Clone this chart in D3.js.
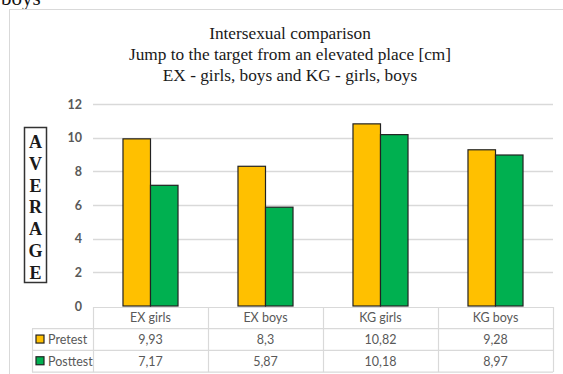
<!DOCTYPE html>
<html>
<head>
<meta charset="utf-8">
<script src="https://cdn.jsdelivr.net/npm/d3@7/dist/d3.min.js"></script>
<style>
  html, body { margin: 0; padding: 0; background: #fff; }
  svg { display: block; }
</style>
</head>
<body>
<svg id="chart" width="563" height="374"></svg>
<script>
// Group labels along the x axis
const categories = ["EX girls", "EX boys", "KG girls", "KG boys"];
// Measurement series
const seriesNames = ["Pretest", "Posttest"];
const pretest = [9.93, 8.3, 10.82, 9.28];
const posttest = [7.17, 5.87, 10.18, 8.97];
// Table cell labels as printed (decimal comma)
const pretestLabels = ["9,93", "8,3", "10,82", "9,28"];
const posttestLabels = ["7,17", "5,87", "10,18", "8,97"];
// Y axis ticks
const yTicks = [0, 2, 4, 6, 8, 10, 12];
const titleLines = [
  "Intersexual comparison",
  "Jump to the target from an elevated place [cm]",
  "EX - girls, boys and KG - girls, boys"
];
const axisLetters = ["A", "V", "E", "R", "A", "G", "E"];

const colors = { Pretest: "#FFC000", Posttest: "#00B050" };
const values = { Pretest: pretest, Posttest: posttest };
const labels = { Pretest: pretestLabels, Posttest: posttestLabels };

const svg = d3.select("#chart");
const serifFont = "'Liberation Serif', 'Times New Roman', Times, serif";
const tableFont = "Lato, 'Open Sans', sans-serif";
const gridColor = "#d9d9d9";
const textGray = "#595959";

// Caption fragment above the chart frame
svg.append("text")
  .attr("x", 1).attr("y", 5)
  .attr("font-family", serifFont)
  .attr("font-size", 21)
  .attr("fill", "#111")
  .text("boys");

// Chart frame
svg.append("rect")
  .attr("x", 9.5).attr("y", 9.5)
  .attr("width", 600).attr("height", 400)
  .attr("fill", "#fff")
  .attr("stroke", gridColor);

// Title
svg.append("g").selectAll("text")
  .data(titleLines).join("text")
  .attr("x", 290)
  .attr("y", (d, i) => 39 + i * 21)
  .attr("text-anchor", "middle")
  .attr("font-family", serifFont)
  .attr("font-size", 17.3)
  .attr("fill", "#1a1a1a")
  .text(d => d);

// Scales
const plotLeft = 93, plotRight = 553, plotTop = 104, plotBottom = 306;
const x = d3.scaleBand().domain(categories).range([plotLeft, plotRight]).padding(0);
const xSub = d3.scaleBand().domain(seriesNames).range([0, x.bandwidth()])
  .paddingInner(0).paddingOuter(1.09);
const y = d3.scaleLinear().domain([0, 12]).range([plotBottom, plotTop]);

// Gridlines
svg.append("g").selectAll("line")
  .data(yTicks.filter(t => t > 0)).join("line")
  .attr("x1", plotLeft).attr("x2", plotRight)
  .attr("y1", d => Math.round(y(d)) + 0.5).attr("y2", d => Math.round(y(d)) + 0.5)
  .attr("stroke", gridColor).attr("stroke-width", 1.3);

// Y axis labels
const yAxis = d3.axisLeft(y).tickValues(yTicks).tickSize(0).tickPadding(11);
const yg = svg.append("g").attr("transform", `translate(${plotLeft},0)`).call(yAxis);
yg.select(".domain").remove();
yg.selectAll("text")
  .attr("font-family", tableFont)
  .attr("font-size", 12.5)
  .attr("font-weight", 700)
  .attr("fill", textGray);

// Bars
const groups = svg.append("g").selectAll("g")
  .data(categories).join("g")
  .attr("transform", d => `translate(${x(d)},0)`);
groups.selectAll("rect")
  .data((c, i) => seriesNames.map(s => ({ s, v: values[s][i] })))
  .join("rect")
  .attr("x", d => xSub(d.s))
  .attr("y", d => y(d.v))
  .attr("width", xSub.bandwidth())
  .attr("height", d => y(0) - y(d.v))
  .attr("fill", d => colors[d.s])
  .attr("stroke", "#222")
  .attr("stroke-width", 1.2);

// Vertical axis title in a box
const boxG = svg.append("g");
boxG.append("rect")
  .attr("x", 24.5).attr("y", 127.5)
  .attr("width", 22).attr("height", 155)
  .attr("fill", "#fff")
  .attr("stroke", "#333").attr("stroke-width", 1.5);
boxG.selectAll("text")
  .data(axisLetters).join("text")
  .attr("x", 35.5)
  .attr("y", (d, i) => 148 + i * 21.8)
  .attr("text-anchor", "middle")
  .attr("font-family", serifFont)
  .attr("font-weight", "bold")
  .attr("font-size", 18)
  .attr("fill", "#1a1a1a")
  .text(d => d);

// Data table below the axis
const tableTop = 307, rowH = 21.7;
const legendLeft = 32;
const tg = svg.append("g")
  .attr("stroke", gridColor).attr("stroke-width", 1.2).attr("fill", "none");
// horizontal lines
tg.append("line").attr("x1", plotLeft).attr("x2", plotRight)
  .attr("y1", tableTop + 0.5).attr("y2", tableTop + 0.5);
[1, 2, 3].forEach(r => {
  tg.append("line").attr("x1", legendLeft).attr("x2", plotRight)
    .attr("y1", tableTop + r * rowH).attr("y2", tableTop + r * rowH);
});
// vertical lines at band edges
const colEdges = categories.map(c => x(c)).concat([x(categories[categories.length - 1]) + x.bandwidth()]);
tg.selectAll("line.v")
  .data(colEdges).join("line")
  .attr("class", "v")
  .attr("x1", d => d + 0.5).attr("x2", d => d + 0.5)
  .attr("y1", tableTop).attr("y2", tableTop + 3 * rowH);
tg.append("line").attr("x1", legendLeft + 0.5).attr("x2", legendLeft + 0.5)
  .attr("y1", tableTop + rowH).attr("y2", tableTop + 3 * rowH);

// header row
svg.append("g").selectAll("text")
  .data(categories).join("text")
  .attr("x", d => x(d) + x.bandwidth() / 2)
  .attr("y", tableTop + rowH / 2 + 4.5)
  .attr("text-anchor", "middle")
  .attr("font-family", tableFont).attr("font-size", 12.5)
  .attr("fill", textGray)
  .text(d => d);

// series rows
seriesNames.forEach((s, r) => {
  const cy = tableTop + (r + 1) * rowH + rowH / 2;
  svg.append("rect")
    .attr("x", 36).attr("y", cy - 4.5)
    .attr("width", 8).attr("height", 8)
    .attr("fill", colors[s]).attr("stroke", "#222").attr("stroke-width", 1.2);
  svg.append("text")
    .attr("x", 48).attr("y", cy + 4.5)
    .attr("font-family", tableFont).attr("font-size", 12.5)
    .attr("fill", textGray)
    .text(s);
  svg.append("g").selectAll("text")
    .data(categories).join("text")
    .attr("x", d => x(d) + x.bandwidth() / 2)
    .attr("y", cy + 4.5)
    .attr("text-anchor", "middle")
    .attr("font-family", tableFont).attr("font-size", 12.5)
    .attr("fill", textGray)
    .text((d, i) => labels[s][i]);
});
</script>
</body>
</html>
